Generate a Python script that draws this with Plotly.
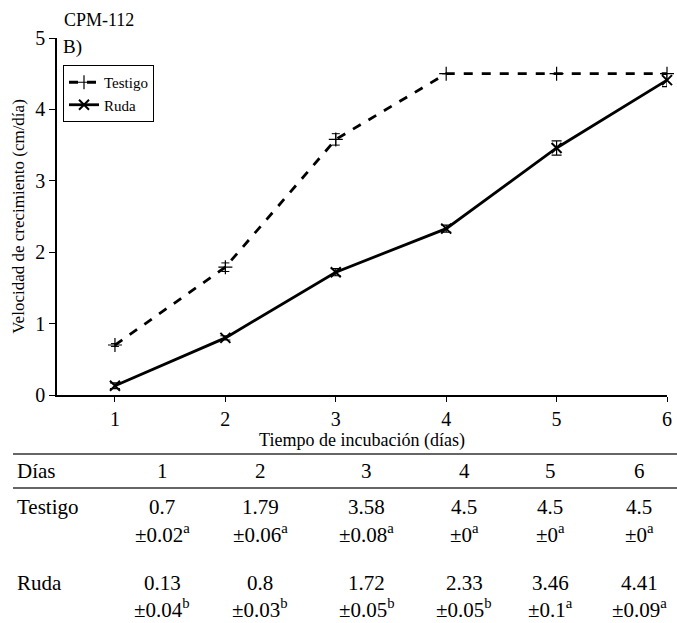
import plotly.graph_objects as go

# Days of incubation and growth velocity (cm/día)
dias = [1, 2, 3, 4, 5, 6]
testigo = [0.7, 1.79, 3.58, 4.5, 4.5, 4.5]
testigo_err = [0.02, 0.06, 0.08, 0, 0, 0]
testigo_letra = ["a", "a", "a", "a", "a", "a"]
ruda = [0.13, 0.8, 1.72, 2.33, 3.46, 4.41]
ruda_err = [0.04, 0.03, 0.05, 0.05, 0.1, 0.09]
ruda_letra = ["b", "b", "b", "b", "a", "a"]

FONT = "Liberation Serif, Times New Roman, Times, serif"
BLACK = "black"
W, H = 677, 623
# plot area in page pixels
PX0, PX1, PY0, PY1 = 57, 667, 38, 395


def note(text, px, py, size, anchor="left"):
    # paper coordinates over the whole page; family comes from layout.font
    return dict(text=text, xref="paper", yref="paper", x=px / W, y=1 - py / H,
                xanchor=anchor, yanchor="middle", showarrow=False,
                font=dict(size=size, color=BLACK))


fig = go.Figure()
fig.add_trace(go.Scatter(
    x=dias, y=testigo, name="Testigo", mode="lines+markers",
    line=dict(color=BLACK, width=2.8, dash="dash"),
    marker=dict(symbol="cross-thin", size=10, color=BLACK,
                line=dict(color=BLACK, width=1.2)),
    error_y=dict(type="data", array=testigo_err, color=BLACK,
                 thickness=1, width=4),
    cliponaxis=False,
))
fig.add_trace(go.Scatter(
    x=dias, y=ruda, name="Ruda", mode="lines+markers",
    line=dict(color=BLACK, width=2.8),
    marker=dict(symbol="x-thin", size=10, color=BLACK,
                line=dict(color=BLACK, width=2)),
    error_y=dict(type="data", array=ruda_err, color=BLACK,
                 thickness=1.2, width=5),
    cliponaxis=False,
))

ann = [note("CPM-112", 62, 20, 18), note("B)", 61, 47, 19)]

# Summary table under the chart
col_x = [162, 260, 367, 464, 550, 639]
for label, py in (("Días", 471), ("Testigo", 507), ("Ruda", 583)):
    ann.append(note(label, 15, py, 21))
for i, d in enumerate(dias):
    cx = col_x[i]
    ann.append(note(str(d), cx, 471, 21, "center"))
    ann.append(note(f"{testigo[i]:g}", cx, 507, 21, "center"))
    ann.append(note(f"±{testigo_err[i]:g}<sup>{testigo_letra[i]}</sup>",
                    cx, 533, 21, "center"))
    ann.append(note(f"{ruda[i]:g}", cx, 583, 21, "center"))
    ann.append(note(f"±{ruda_err[i]:g}<sup>{ruda_letra[i]}</sup>",
                    cx, 608, 21, "center"))

shapes = []
for py in (454, 488):
    shapes.append(dict(type="line", xref="paper", yref="paper",
                       x0=13 / W, x1=1, y0=1 - py / H, y1=1 - py / H,
                       line=dict(color="#333", width=1.5)))

fig.update_layout(
    width=W, height=H,
    margin=dict(l=0, r=0, t=0, b=0),
    paper_bgcolor="white", plot_bgcolor="white",
    font=dict(family=FONT, color=BLACK),
    showlegend=True,
    legend=dict(x=63 / W, y=1 - 65 / H, xanchor="left", yanchor="top",
                bordercolor=BLACK, borderwidth=1, bgcolor="white",
                font=dict(size=15, color=BLACK),
                tracegroupgap=0, itemwidth=30),
    annotations=ann, shapes=shapes,
    xaxis=dict(
        domain=[PX0 / W, PX1 / W], anchor="y", automargin=False,
        range=[0.475, 6.0], tickvals=dias, ticks="outside", ticklen=5,
        tickcolor=BLACK, showline=True, linecolor=BLACK, linewidth=1.5,
        showgrid=False, zeroline=False,
        tickfont=dict(size=20, color=BLACK),
        title=dict(text="Tiempo de incubación (días)", standoff=4,
                   font=dict(size=18, color=BLACK)),
    ),
    yaxis=dict(
        domain=[1 - PY1 / H, 1 - PY0 / H], anchor="x", automargin=False,
        range=[0, 5], tickvals=[0, 1, 2, 3, 4, 5], ticks="outside", ticklen=6,
        tickcolor=BLACK, showline=True, linecolor=BLACK, linewidth=1.5,
        showgrid=False, zeroline=False,
        tickfont=dict(size=20, color=BLACK),
        title=dict(text="Velocidad de crecimiento (cm/día)", standoff=6,
                   font=dict(size=17, color=BLACK)),
    ),
)

fig.write_html("out.html")
